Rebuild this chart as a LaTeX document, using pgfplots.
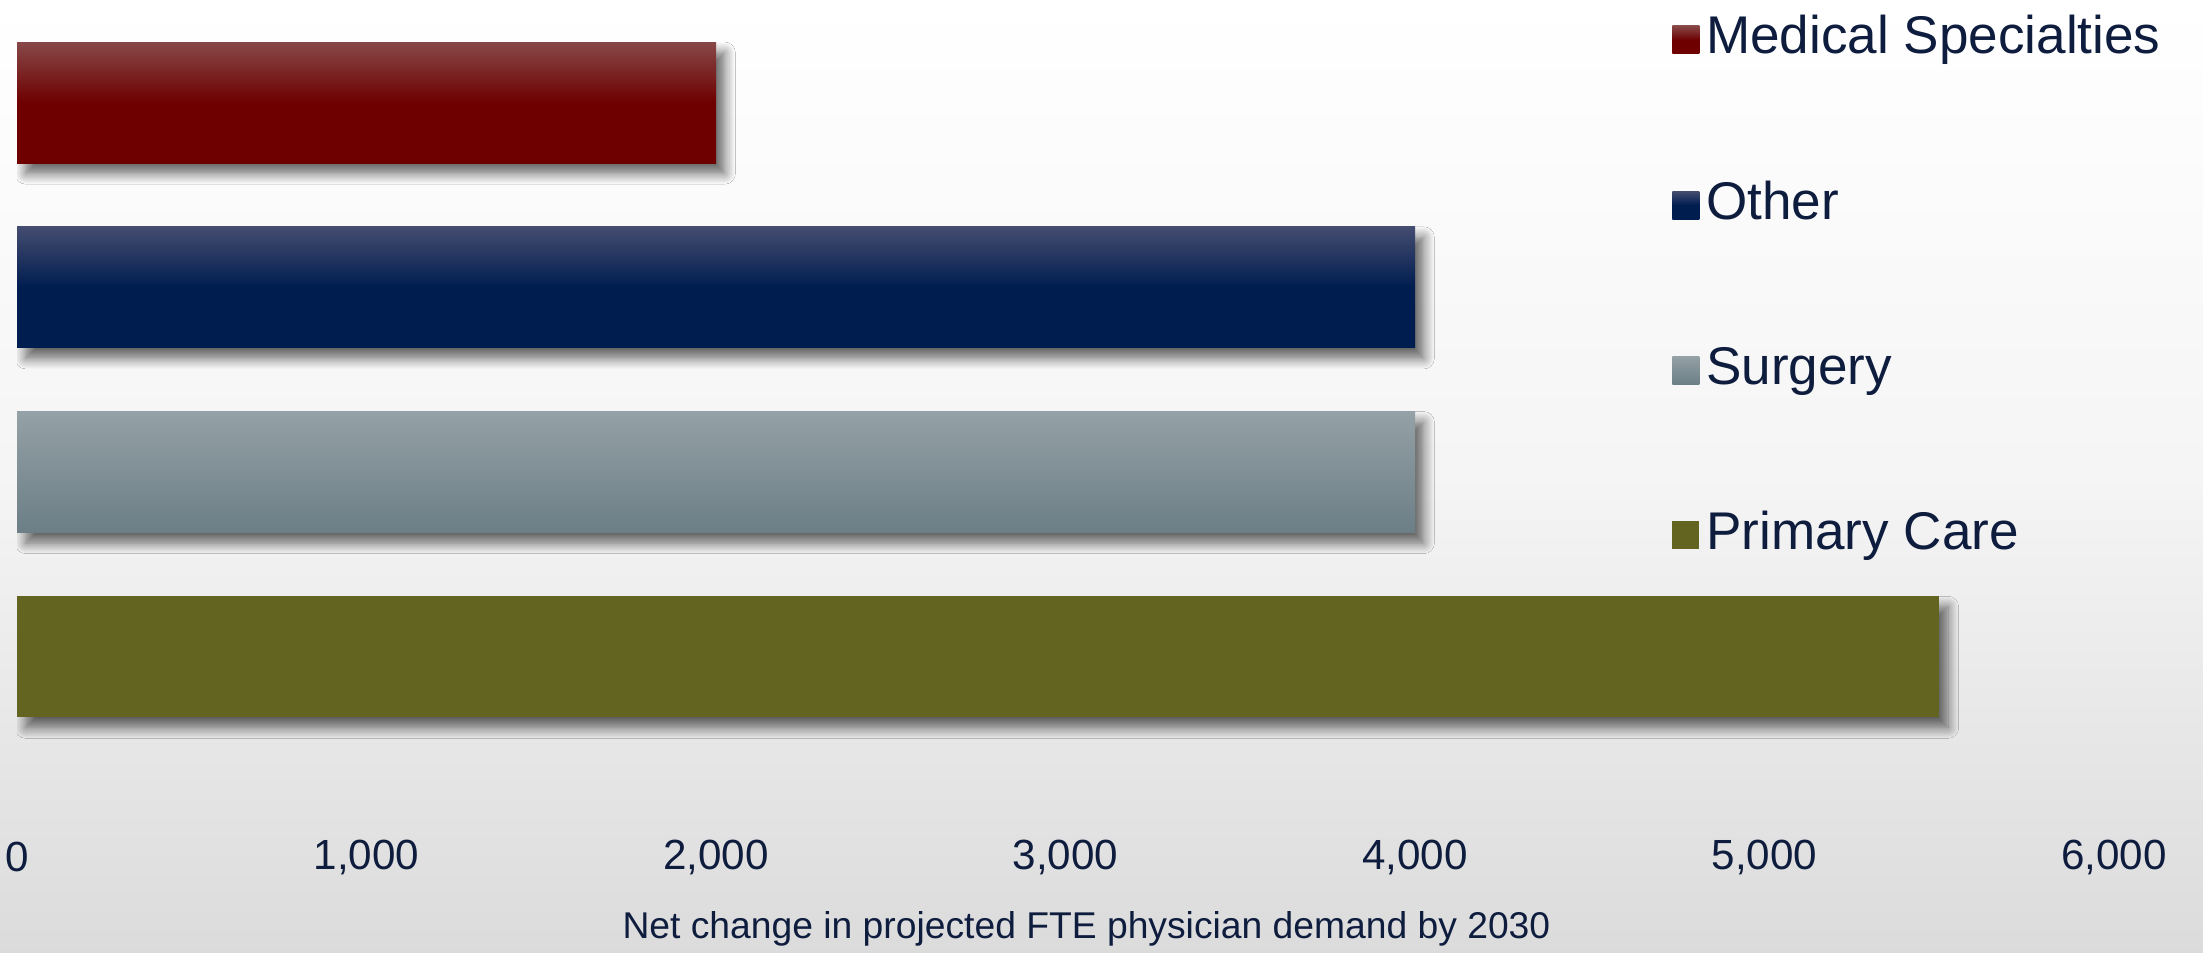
\documentclass[border=0pt]{standalone}
\usepackage{pgfplots}
\pgfplotsset{compat=1.18}
\usepackage{fontspec}
\setmainfont{Liberation Sans}
\usetikzlibrary{shadows.blur}
\definecolor{txt}{HTML}{0E1C3E}
\definecolor{medtop}{HTML}{884848}
\definecolor{medbot}{HTML}{6E0000}
\definecolor{othtop}{HTML}{444C70}
\definecolor{othbot}{HTML}{001D50}
\definecolor{surtop}{HTML}{94A1A6}
\definecolor{surbot}{HTML}{6C7E86}
\definecolor{pri}{HTML}{636420}
\tikzset{barshadow/.style={blur shadow={shadow xshift=2.5pt, shadow yshift=-3pt, shadow blur radius=3pt, shadow opacity=60, shadow blur steps=10}}}
\begin{document}
\begin{tikzpicture}
\useasboundingbox (0,0) rectangle (22.03cm,9.52cm);
\shade[top color=white, bottom color=black!14, middle color=black!4] (0,0) rectangle (22.03cm,9.52cm);
\begin{axis}[
  at={(0.17cm,1.29cm)}, anchor=south west,
  scale only axis, width=20.97cm, height=8.22cm,
  xmin=0, xmax=6000, ymin=-0.9, ymax=3.55,
  axis line style={draw=none},
  major tick length=0pt,
  ytick=\empty,
  xtick={0,1000,2000,3000,4000,5000,6000},
  /pgf/number format/.cd, 1000 sep={,}, assume math mode=true, /pgfplots/.cd,
  xticklabel style={anchor=center, yshift=-0.34cm, font=\fontsize{12}{14}\selectfont, text=txt},
  xlabel={Net change in projected FTE physician demand by 2030},
  xlabel style={at={(axis description cs:0.51,0)}, anchor=center, yshift=-1.06cm, font=\fontsize{10.6}{12}\selectfont, text=txt},
  xbar, bar width=1.21cm, bar shift=0pt,
  legend style={at={(axis description cs:0.789,0.992)}, anchor=north west, draw=none, fill=none,
    inner sep=0pt, row sep=29pt, column sep=0pt,
    font=\fontsize{15.1}{18}\selectfont, text=txt,
    nodes={inner sep=2pt, text height=11pt, text depth=3pt}},
  legend cell align=left,
  legend image code/.code={\path[#1, draw=none] (0cm,-0.14cm) rectangle (0.27cm,0.14cm);},
]
\addplot[forget plot, draw=none, fill=pri, barshadow] coordinates {(5500,0)};
\addplot[forget plot, draw=none, top color=surtop, bottom color=surbot, barshadow] coordinates {(4000,1)};
\addplot[forget plot, draw=none, top color=othtop, bottom color=othbot, middle color=othbot, barshadow] coordinates {(4000,2)};
\addplot[forget plot, draw=none, top color=medtop, bottom color=medbot, middle color=medbot, barshadow] coordinates {(2000,3)};
\addlegendimage{top color=medtop, bottom color=medbot, middle color=medbot}
\addlegendentry{Medical Specialties}
\addlegendimage{top color=othtop, bottom color=othbot, middle color=othbot}
\addlegendentry{Other}
\addlegendimage{top color=surtop, bottom color=surbot}
\addlegendentry{Surgery}
\addlegendimage{fill=pri}
\addlegendentry{Primary Care}
\end{axis}
\end{tikzpicture}
\end{document}
